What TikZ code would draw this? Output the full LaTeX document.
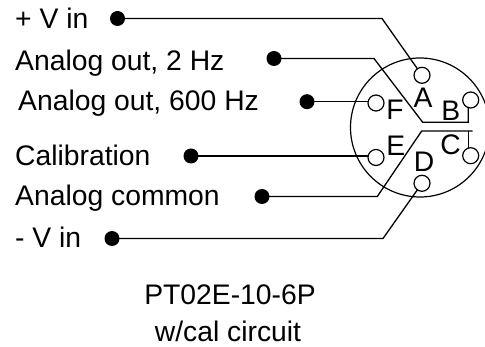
\documentclass[tikz,border=0pt]{standalone}
\usepackage{fontspec}
\setmainfont{Liberation Sans}
\tikzset{
  wire/.style={line width=1.3pt,black,line join=miter},
  pin/.style={circle,draw=black,line width=1.2pt,fill=white,inner sep=0pt,minimum size=16pt},
  term/.style={circle,fill=black,inner sep=0pt,minimum size=15pt},
  lab/.style={anchor=base west,inner sep=0pt,font=\fontsize{28.3}{28.3}\selectfont},
  ctr/.style={anchor=base,inner sep=0pt,font=\fontsize{28.3}{28.3}\selectfont},
  let/.style={inner sep=0pt,font=\fontsize{28.3}{28.3}\selectfont},
}
\begin{document}
\begin{tikzpicture}[x=1pt,y=-1pt]
\useasboundingbox (0,0) rectangle (485,347);
\clip (0,0) rectangle (485,347);
\node[circle,draw=black,line width=1.2pt,inner sep=0pt,minimum size=139pt] (body) at (420,127.5) {};
% bends
\coordinate (a1) at (382,18.5);
\coordinate (b1) at (374,58.5);
\coordinate (b2) at (422.7,122.3);
\coordinate (b3) at (468.3,122.3);
\coordinate (c1) at (377.3,196.5);
\coordinate (c2) at (421.7,131);
\coordinate (c3) at (468.3,131);
\coordinate (c4) at (472.7,131);
\coordinate (d1) at (383,238.5);
% terminals
\node[term] (tA) at (117.5,18.5) {};
\node[term] (tB) at (274,58.5) {};
\node[term] (tF) at (307,101.7) {};
\node[term] (tE) at (191,156) {};
\node[term] (tC) at (262,196.5) {};
\node[term] (tD) at (112,238.5) {};
% wires
\draw[wire] (tB.center) -- (b1) -- (b2) -- (b3) -- (468.3,100);
\draw[wire] (tC.center) -- (c1) -- (c2) -- (c4);
\draw[wire] (c3) -- (468.3,155);
\draw[wire] (tA.center) -- (a1) -- (422,75.3);
\draw[wire] (tF.center) -- (376,101.7);
\draw[wire] (tE.center) -- (376,156);
\draw[wire] (tD.center) -- (d1) -- (422,183.3);
% pins
\node[pin] (pA) at (422,75.3) {};
\node[pin] (pF) at (376,103) {};
\node[pin] (pE) at (376,157.5) {};
\node[pin] (pD) at (422,183.3) {};
\node[pin] (pB) at (470.7,100) {};
\node[pin] (pC) at (470.7,155.7) {};
% pin letters
\node[let] (lA) at (423,98) {A};
\node[let] (lF) at (395,110) {F};
\node[let] (lB) at (450.7,110.7) {B};
\node[let] (lE) at (395.7,146) {E};
\node[let] (lC) at (450.7,145) {C};
\node[let] (lD) at (424,162) {D};
% labels
\node[lab] (n1) at (15,29) {+ V in};
\node[lab] (n2) at (15,71) {Analog out, 2 Hz};
\node[lab] (n3) at (18,111) {Analog out, 600 Hz};
\node[lab] (n4) at (15,166) {Calibration};
\node[lab] (n5) at (15,206) {Analog common};
\node[lab] (n6) at (15,248) {- V in};
\node[ctr] (n7) at (230,305) {PT02E-10-6P};
\node[ctr] (n8) at (228,342) {w/cal circuit};
\end{tikzpicture}
\end{document}
